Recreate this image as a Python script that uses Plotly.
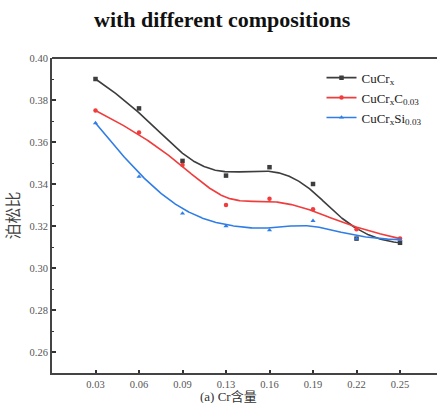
import numpy as np
import plotly.graph_objects as go

categories = ["0.03", "0.06", "0.09", "0.13", "0.16", "0.19", "0.22", "0.25"]
cucr = [0.390, 0.376, 0.351, 0.344, 0.348, 0.340, 0.314, 0.312]
cucr_c = [0.375, 0.3645, 0.349, 0.330, 0.333, 0.328, 0.3185, 0.314]
cucr_si = [0.369, 0.3435, 0.326, 0.320, 0.318, 0.3225, 0.314, 0.3135]
series_names = ["CuCr<sub>x</sub>", "CuCr<sub>x</sub>C<sub>0.03</sub>", "CuCr<sub>x</sub>Si<sub>0.03</sub>"]
y_ticks = [0.26, 0.28, 0.30, 0.32, 0.34, 0.36, 0.38, 0.40]

xs = list(range(len(categories)))
serif = "Liberation Serif"


def bspline(px, py, samples=300, k=3):
    """Clamped cubic B-spline using the data points as control points (Origin-style)."""
    P = np.column_stack([px, py]).astype(float)
    n = len(P)
    inner = np.arange(1, n - k)
    knots = np.concatenate([np.zeros(k + 1), inner, np.full(k + 1, n - k)]).astype(float)
    ts = np.linspace(0, n - k, samples)
    out = []
    for t in ts:
        if t >= knots[n]:
            s = n - 1
        else:
            s = np.searchsorted(knots, t, side="right") - 1
        d = [P[j + s - k].copy() for j in range(k + 1)]
        for r in range(1, k + 1):
            for j in range(k, r - 1, -1):
                i = j + s - k
                den = knots[i + k + 1 - r] - knots[i]
                a = 0.0 if den == 0 else (t - knots[i]) / den
                d[j] = (1 - a) * d[j - 1] + a * d[j]
        out.append(d[k])
    out = np.array(out)
    return out[:, 0], out[:, 1]


fig = go.Figure()
styles = [
    (cucr, "#3d3d3d", "square"),
    (cucr_c, "#f03c3c", "circle"),
    (cucr_si, "#2f7de6", "triangle-up"),
]
for (vals, color, sym), name in zip(styles, series_names):
    cx, cy = bspline(xs, vals)
    fig.add_trace(go.Scatter(x=cx, y=cy, mode="lines", showlegend=False,
                             line=dict(color=color, width=1.6), hoverinfo="skip"))
    fig.add_trace(go.Scatter(x=xs, y=vals, mode="markers", showlegend=False,
                             marker=dict(symbol=sym, size=4.5, color=color)))
    fig.add_trace(go.Scatter(x=[None], y=[None], name=name, mode="lines+markers",
                             line=dict(color=color, width=1.6),
                             marker=dict(symbol=sym, size=4.5, color=color)))

fig.update_layout(
    width=437, height=403,
    margin=dict(l=52, r=0, t=58, b=30),
    paper_bgcolor="white", plot_bgcolor="white",
    font=dict(family=serif, size=11, color="#444"),
    showlegend=True,
    legend=dict(
        x=0.70, y=0.985, xanchor="left", yanchor="top",
        font=dict(family=serif, size=13, color="#222"),
        bgcolor="rgba(0,0,0,0)", itemwidth=30, tracegroupgap=0,
    ),
    xaxis=dict(
        range=[-1, 7.85], tickmode="array", tickvals=xs, ticktext=categories,
        ticks="inside", ticklen=3, tickwidth=1.5, tickcolor="#333",
        showline=True, linecolor="#444", linewidth=2, mirror=False,
        showgrid=False, zeroline=False,
        tickfont=dict(family=serif, size=10.5, color="#555"),
    ),
    yaxis=dict(
        range=[0.25, 0.40], tickmode="array", tickvals=y_ticks,
        ticktext=[f"{v:.2f}" for v in y_ticks],
        ticks="inside", ticklen=4, tickwidth=1.5, tickcolor="#333",
        minor=dict(ticks="inside", ticklen=2, tickwidth=1, tickcolor="#333", dtick=0.01, tick0=0.25),
        showline=True, linecolor="#444", linewidth=2,
        showgrid=False, zeroline=False,
        tickfont=dict(family=serif, size=10.5, color="#555"),
        title=dict(text="泊松比", font=dict(family="Noto Sans CJK SC", size=16, color="#444"), standoff=8),
    ),
    shapes=[dict(type="line", xref="paper", yref="paper", x0=0, x1=1, y0=1, y1=1,
                 line=dict(color="#444", width=2))],
    annotations=[
        dict(text="<b>with different compositions</b>", xref="paper", yref="paper",
             x=(222 - 52) / 385, y=1 + (58 - 20) / 315, xanchor="center", yanchor="middle",
             showarrow=False, font=dict(family=serif, size=22, color="#111")),
        dict(text="(a) Cr含量", xref="paper", yref="paper",
             x=(228 - 52) / 385, y=-(396 - 373) / 315, xanchor="center", yanchor="middle",
             showarrow=False, font=dict(family="Liberation Serif, Noto Sans CJK SC", size=13, color="#333")),
    ],
)

fig.write_html("out.html")
